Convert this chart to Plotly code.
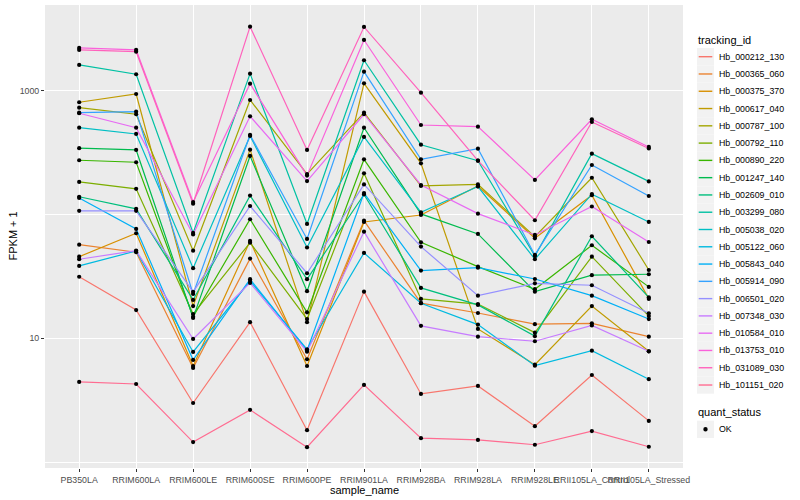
import plotly.graph_objects as go

samples = ["PB350LA", "RRIM600LA", "RRIM600LE", "RRIM600SE", "RRIM600PE", "RRIM901LA",
           "RRIM928BA", "RRIM928LA", "RRIM928LE", "RRII105LA_Control", "RRII105LA_Stressed"]

tracking_ids = ["Hb_000212_130", "Hb_000365_060", "Hb_000375_370", "Hb_000617_040",
                "Hb_000787_100", "Hb_000792_110", "Hb_000890_220", "Hb_001247_140",
                "Hb_002609_010", "Hb_003299_080", "Hb_005038_020", "Hb_005122_060",
                "Hb_005843_040", "Hb_005914_090", "Hb_006501_020", "Hb_007348_030",
                "Hb_010584_010", "Hb_013753_010", "Hb_031089_030", "Hb_101151_020"]

colors = ["#F8766D", "#EA8331", "#D89000", "#C09B00", "#A3A500", "#7CAE00", "#39B600",
          "#00BB4E", "#00BF7D", "#00C1A3", "#00BFC4", "#00BAE0", "#00B0F6", "#35A2FF",
          "#9590FF", "#C77CFF", "#E76BF3", "#FA62DB", "#FF62BC", "#FF6C91"]

# FPKM + 1 per sample (order of `samples`)
hb_000212_130 = [31.4, 16.9, 3.00, 13.5, 1.81, 23.8, 3.55, 4.12, 1.95, 5.05, 2.15]
hb_000365_060 = [57.0, 49.5, 5.76, 44.0, 6.77, 89.1, 19.2, 16.0, 13.0, 13.2, 10.3]
hb_000375_370 = [45.6, 70.5, 5.97, 61.1, 5.97, 87.0, 99.0, 170, 64.2, 143, 20.8]
hb_000617_040 = [806, 940, 18.2, 334, 13.5, 1147, 259, 11.9, 6.12, 18.2, 7.85]
hb_000787_100 = [729, 645, 51.0, 841, 212, 664, 170, 175, 66.2, 198, 35.6]
hb_000792_110 = [183, 161, 15.7, 59.2, 14.3, 215, 20.8, 18.9, 11.1, 45.6, 15.1]
hb_000890_220 = [274, 264, 14.9, 91.5, 16.2, 279, 59.6, 37.9, 24.9, 56.4, 26.0]
hb_001247_140 = [343, 332, 14.6, 297, 24.0, 502, 101, 69.6, 23.8, 32.3, 32.9]
hb_002609_010 = [139, 111, 20.4, 142, 30.0, 145, 25.5, 18.6, 10.4, 66.7, 21.4]
hb_003299_080 = [1613, 1357, 70.9, 1372, 83.8, 1760, 366, 272, 46.2, 310, 185]
hb_005038_020 = [502, 447, 36.8, 431, 54.1, 423, 104, 168, 43.5, 146, 87.0]
hb_005122_060 = [38.4, 50.7, 7.75, 29.0, 8.15, 48.9, 19.2, 12.9, 6.01, 7.94, 4.67]
hb_005843_040 = [136, 76.4, 6.68, 30.0, 7.97, 149, 35.2, 37.2, 30.1, 22.1, 14.3]
hb_005914_090 = [664, 677, 22.8, 439, 63.4, 1424, 279, 340, 47.1, 251, 141]
hb_006501_020 = [107, 107, 23.7, 117, 33.5, 175, 55.0, 22.1, 27.8, 26.8, 15.9]
hb_007348_030 = [43.5, 51.0, 9.87, 28.0, 7.79, 72.6, 12.6, 10.3, 9.46, 12.7, 7.85]
hb_010584_010 = [657, 502, 68.9, 621, 186, 645, 173, 101.5, 68.3, 116, 59.9]
hb_013753_010 = [2213, 2132, 126, 1139, 206, 2568, 528, 512, 190, 587, 351]
hb_031089_030 = [2132, 2065, 122, 3288, 332, 3270, 963, 272, 89.8, 559, 341]
hb_101151_020 = [4.44, 4.27, 1.45, 2.64, 1.32, 4.20, 1.56, 1.51, 1.38, 1.78, 1.33]

series = [hb_000212_130, hb_000365_060, hb_000375_370, hb_000617_040, hb_000787_100,
          hb_000792_110, hb_000890_220, hb_001247_140, hb_002609_010, hb_003299_080,
          hb_005038_020, hb_005122_060, hb_005843_040, hb_005914_090, hb_006501_020,
          hb_007348_030, hb_010584_010, hb_013753_010, hb_031089_030, hb_101151_020]

quant_status = ["OK"]

FONT = "Liberation Sans, Arial, Helvetica, sans-serif"
W, H = 800, 500
PL, PR, PT, PB = 45, 683, 5, 468  # panel in pixels


def px_x(p):
    return (p - PL) / (PR - PL)


def px_y(p):
    return (PB - p) / (PB - PT)


fig = go.Figure()

# lines (drawn first, like geom_line)
for tid, vals, col in zip(tracking_ids, series, colors):
    fig.add_trace(go.Scatter(x=samples, y=vals, mode="lines", name=tid,
                             line=dict(color=col, width=1.2), showlegend=False,
                             hoverinfo="x+y+name"))

# points on top (geom_point, black)
all_x, all_y = [], []
for vals in series:
    all_x += samples
    all_y += vals
fig.add_trace(go.Scatter(x=all_x, y=all_y, mode="markers", name=quant_status[0],
                         marker=dict(color="black", size=4.2, symbol="circle"),
                         showlegend=False, hoverinfo="skip"))

fig.update_layout(
    width=W, height=H,
    margin=dict(l=PL, r=W - PR, t=PT, b=H - PB),
    paper_bgcolor="white", plot_bgcolor="#EBEBEB",
    font=dict(family=FONT, size=11, color="black"),
    showlegend=False,
)

fig.update_xaxes(type="category", categoryorder="array", categoryarray=samples,
                 range=[-0.6, len(samples) - 0.4], showgrid=True, gridcolor="white",
                 gridwidth=1.4, zeroline=False, showline=False, ticks="outside",
                 ticklen=3, tickwidth=1, tickcolor="#333333", tickangle=0,
                 ticklabelstandoff=0,
                 tickfont=dict(family=FONT, size=8.8, color="#4D4D4D"))

fig.update_yaxes(type="log", range=[-0.048, 3.692], tickmode="array",
                 tickvals=[10, 1000], ticktext=["10", "1000"], showgrid=True,
                 gridcolor="white", gridwidth=1.4, zeroline=False, showline=False,
                 ticks="outside", ticklen=3, tickwidth=1, tickcolor="#333333",
                 tickfont=dict(family=FONT, size=8.8, color="#4D4D4D"),
                 minor=dict(tickmode="array", tickvals=[1, 100], showgrid=True,
                            gridcolor="white", gridwidth=0.7, ticks=""))

annotations = [
    dict(text="sample_name", x=0.5, y=px_y(490), xref="paper", yref="paper",
         showarrow=False, xanchor="center", yanchor="middle",
         font=dict(family=FONT, size=11, color="black")),
    dict(text="FPKM + 1", x=px_x(12), y=0.5, xref="paper", yref="paper",
         showarrow=False, xanchor="center", yanchor="middle", textangle=-90,
         font=dict(family=FONT, size=11, color="black")),
    dict(text="tracking_id", x=px_x(696), y=px_y(40), xref="paper", yref="paper",
         showarrow=False, xanchor="left", yanchor="middle",
         font=dict(family=FONT, size=11, color="black")),
    dict(text="quant_status", x=px_x(696), y=px_y(412), xref="paper", yref="paper",
         showarrow=False, xanchor="left", yanchor="middle",
         font=dict(family=FONT, size=11, color="black")),
]
shapes = []
KEY_L, KEY_R, KEY_H, ROW0, ROW_STEP = 697, 714, 17.28, 56.7, 17.28
for i, (tid, col) in enumerate(zip(tracking_ids, colors)):
    cy = ROW0 + i * ROW_STEP
    shapes.append(dict(type="rect", xref="paper", yref="paper",
                       x0=px_x(KEY_L), x1=px_x(KEY_R),
                       y0=px_y(cy - KEY_H / 2), y1=px_y(cy + KEY_H / 2),
                       fillcolor="#F2F2F2", line=dict(width=0), layer="above"))
    shapes.append(dict(type="line", xref="paper", yref="paper",
                       x0=px_x(KEY_L + 1.7), x1=px_x(KEY_R - 1.7),
                       y0=px_y(cy), y1=px_y(cy),
                       line=dict(color=col, width=1.4), layer="above"))
    annotations.append(dict(text=tid, x=px_x(716.5), y=px_y(cy), xref="paper",
                            yref="paper", showarrow=False, xanchor="left",
                            yanchor="middle",
                            font=dict(family=FONT, size=8.8, color="black")))

ok_cy = 429.3
shapes.append(dict(type="rect", xref="paper", yref="paper",
                   x0=px_x(KEY_L), x1=px_x(KEY_R),
                   y0=px_y(ok_cy - KEY_H / 2), y1=px_y(ok_cy + KEY_H / 2),
                   fillcolor="#F2F2F2", line=dict(width=0), layer="above"))
shapes.append(dict(type="circle", xref="paper", yref="paper",
                   x0=px_x(705.5 - 2.2), x1=px_x(705.5 + 2.2),
                   y0=px_y(ok_cy - 2.2), y1=px_y(ok_cy + 2.2),
                   fillcolor="black", line=dict(width=0), layer="above"))
annotations.append(dict(text=quant_status[0], x=px_x(716.5), y=px_y(ok_cy),
                        xref="paper", yref="paper", showarrow=False,
                        xanchor="left", yanchor="middle",
                        font=dict(family=FONT, size=8.8, color="black")))

fig.update_layout(annotations=annotations, shapes=shapes)

fig.write_html("out.html", post_script="document.body.style.margin='0';",
               config={"displayModeBar": False})
